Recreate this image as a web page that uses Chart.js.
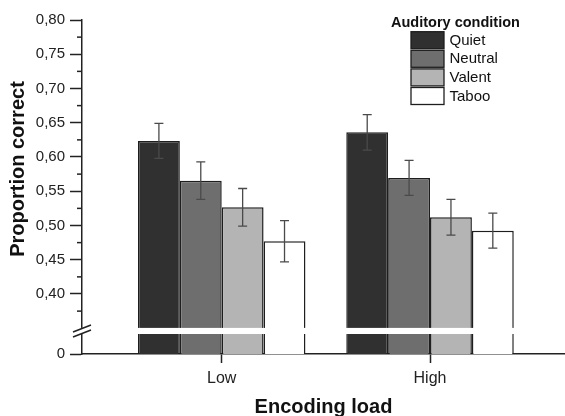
<!DOCTYPE html>
<html><head><meta charset="utf-8">
<script src="https://cdn.jsdelivr.net/npm/chart.js@4"></script>
<style>html,body{margin:0;padding:0;background:#fff;overflow:hidden;}canvas{display:block;}</style>
</head><body>
<canvas id="c" width="565" height="416"></canvas>
<script>
const categories = ['Low', 'High'];
const seriesNames = ['Quiet', 'Neutral', 'Valent', 'Taboo'];
const quiet = [0.6235, 0.636];
const neutral = [0.5655, 0.5695];
const valent = [0.5265, 0.512];
const taboo = [0.477, 0.4925];
const quietErr = [0.0255, 0.026];
const neutralErr = [0.0275, 0.0255];
const valentErr = [0.0275, 0.026];
const tabooErr = [0.030, 0.0255];
const yTickValues = [0.40, 0.45, 0.50, 0.55, 0.60, 0.65, 0.70, 0.75, 0.80];
const yMinorValues = [0.375, 0.425, 0.475, 0.525, 0.575, 0.625, 0.675, 0.725, 0.775];
const yZeroLabel = '0';
const yAxisBottom = 0.3124;   // where the broken axis shows "0"
const yBreak = [0.3416, 0.3505];
const seriesColors = ['#303030', '#6e6e6e', '#b4b4b4', '#ffffff'];
const legendTitle = 'Auditory condition';
const xTitle = 'Encoding load';
const yTitle = 'Proportion correct';

const FAM = "'Liberation Sans', Arial, Helvetica, sans-serif";
Chart.defaults.font.family = FAM;
Chart.defaults.color = '#222';

const values = [quiet, neutral, valent, taboo];
const errs = [quietErr, neutralErr, valentErr, tabooErr];

const datasets = seriesNames.map((name, s) => ({
  label: name,
  data: categories.map((c, i) => ({ x: i, y: values[s][i] })),
  backgroundColor: seriesColors[s],
  borderColor: '#1e1e1e',
  borderWidth: 1.5,
  categoryPercentage: 0.804,
  barPercentage: 1.0
}));

const overlay = {
  id: 'overlay',
  afterDatasetsDraw(chart) {
    const ctx = chart.ctx, ys = chart.scales.y, area = chart.chartArea;
    // error bars
    ctx.save();
    ctx.strokeStyle = '#4a4a4a';
    ctx.lineWidth = 1.3;
    datasets.forEach((ds, s) => {
      const meta = chart.getDatasetMeta(s);
      meta.data.forEach((bar, i) => {
        const v = values[s][i], e = errs[s][i];
        const yt = ys.getPixelForValue(v + e), yb = ys.getPixelForValue(v - e);
        const x = bar.x, cap = 4.5;
        ctx.beginPath();
        ctx.moveTo(x, yt); ctx.lineTo(x, yb);
        ctx.moveTo(x - cap, yt); ctx.lineTo(x + cap, yt);
        ctx.moveTo(x - cap, yb); ctx.lineTo(x + cap, yb);
        ctx.stroke();
      });
    });
    ctx.restore();
    // minor ticks
    ctx.save();
    ctx.strokeStyle = '#222';
    ctx.lineWidth = 1.5;
    yMinorValues.forEach(v => {
      const y = ys.getPixelForValue(v);
      ctx.beginPath(); ctx.moveTo(area.left - 5, y); ctx.lineTo(area.left, y); ctx.stroke();
    });
    ctx.restore();
    // axis break
    const y1 = ys.getPixelForValue(yBreak[1]), y2 = ys.getPixelForValue(yBreak[0]);
    ctx.save();
    ctx.fillStyle = '#fff';
    ctx.fillRect(area.left - 2, y1, area.right - area.left + 2, y2 - y1);
    const ax = area.left, yc = (y1 + y2) / 2;
    ctx.strokeStyle = '#222';
    ctx.lineWidth = 1.5;
    ctx.beginPath();
    ctx.moveTo(ax - 9, yc + 1); ctx.lineTo(ax + 9, yc - 6);
    ctx.moveTo(ax - 9, yc + 6); ctx.lineTo(ax + 9, yc - 1);
    ctx.stroke();
    ctx.restore();
    // legend
    ctx.save();
    ctx.fillStyle = '#111';
    ctx.textBaseline = 'middle';
    ctx.textAlign = 'left';
    ctx.font = 'bold 14.5px ' + FAM;
    ctx.fillText(legendTitle, 391, 23);
    ctx.font = '15px ' + FAM;
    seriesNames.forEach((name, s) => {
      const top = 31.7 + s * 18.6;
      ctx.fillStyle = seriesColors[s];
      ctx.fillRect(411, top, 33, 17);
      ctx.strokeStyle = '#1e1e1e';
      ctx.lineWidth = 1.3;
      ctx.strokeRect(411, top, 33, 17);
      ctx.fillStyle = '#111';
      ctx.fillText(name, 449.5, top + 9);
    });
    ctx.restore();
    // y title
    ctx.save();
    ctx.translate(18, 169);
    ctx.rotate(-Math.PI / 2);
    ctx.textAlign = 'center';
    ctx.textBaseline = 'middle';
    ctx.fillStyle = '#111';
    ctx.font = 'bold 20px ' + FAM;
    ctx.fillText(yTitle, 0, 0);
    ctx.restore();
  }
};

new Chart(document.getElementById('c'), {
  type: 'bar',
  data: { datasets },
  options: {
    responsive: false,
    animation: false,
    layout: { padding: { top: 20, right: 0, left: 0, bottom: 0 } },
    plugins: { legend: { display: false }, tooltip: { enabled: false } },
    scales: {
      x: {
        type: 'linear',
        min: -0.6707,
        max: 1.648,
        offset: false,
        afterBuildTicks: s => { s.ticks = categories.map((c, i) => ({ value: i })); },
        afterFit: s => { s.height = 62; },
        ticks: {
          callback: v => categories[v] !== undefined ? categories[v] : '',
          font: { size: 16 }, color: '#222', padding: 6, autoSkip: false, maxRotation: 0
        },
        grid: { display: true, offset: false, drawOnChartArea: false, drawTicks: true, tickLength: 9, tickColor: '#222', tickWidth: 1.5 },
        border: { display: true, color: '#222', width: 1.5 },
        title: { display: true, text: xTitle, font: { size: 20, weight: 'bold', lineHeight: 1 }, color: '#111', padding: { top: 0, bottom: -1 } }
      },
      y: {
        min: yAxisBottom,
        max: 0.80,
        afterBuildTicks: s => { s.ticks = [{ value: yAxisBottom }].concat(yTickValues.map(v => ({ value: v }))); },
        afterFit: s => { s.width = 82; },
        ticks: {
          callback: v => v === yAxisBottom ? yZeroLabel : v.toFixed(2).replace('.', ','),
          font: { size: 15 }, color: '#222', padding: 5, autoSkip: false
        },
        grid: { drawOnChartArea: false, drawTicks: true, tickLength: 12, tickColor: '#222', tickWidth: 1.5 },
        border: { display: true, color: '#222', width: 1.5 }
      }
    }
  },
  plugins: [overlay]
});
</script>
</body></html>
